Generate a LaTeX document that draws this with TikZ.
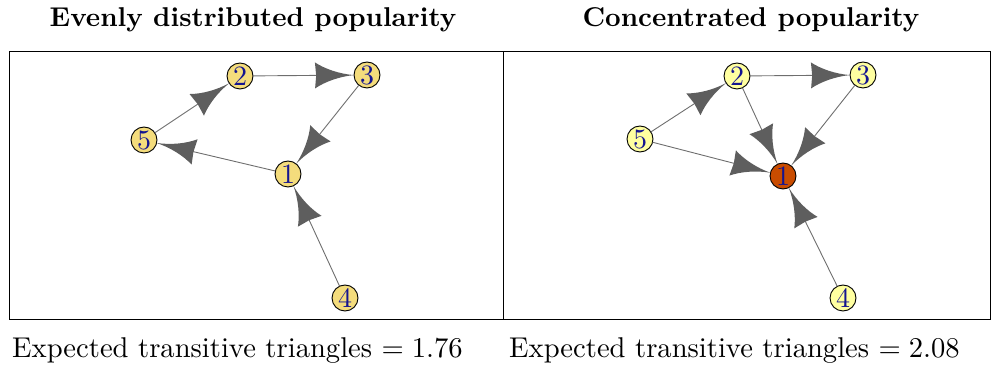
\documentclass[tikz,border=0pt]{standalone}
\usepackage{graphicx}
\usetikzlibrary{arrows.meta}
\definecolor{goldnode}{HTML}{F4DC7C}
\definecolor{lightnode}{HTML}{FFFFA0}
\definecolor{hubnode}{HTML}{C94C00}
\definecolor{numblue}{HTML}{141490}
\definecolor{edgegray}{HTML}{6E6E6E}
\definecolor{arrowgray}{HTML}{5E5E5E}
\pgfdeclarearrow{
  name = Curvy,
  setup code = {
    \pgfarrowssettipend{0pt}
    \pgfarrowssetbackend{-\pgfarrowlength}
    \pgfarrowssetlineend{-0.5\pgfarrowlength}
    \pgfarrowssavethe\pgfarrowlength
    \pgfarrowssavethe\pgfarrowwidth
  },
  drawing code = {
    \pgfpathmoveto{\pgfpoint{0pt}{0pt}}
    \pgfpathcurveto{\pgfpoint{-0.38\pgfarrowlength}{0.05\pgfarrowwidth}}{\pgfpoint{-0.75\pgfarrowlength}{0.25\pgfarrowwidth}}{\pgfpoint{-\pgfarrowlength}{0.5\pgfarrowwidth}}
    \pgfpathlineto{\pgfpoint{-0.97\pgfarrowlength}{0pt}}
    \pgfpathlineto{\pgfpoint{-\pgfarrowlength}{-0.5\pgfarrowwidth}}
    \pgfpathcurveto{\pgfpoint{-0.75\pgfarrowlength}{-0.25\pgfarrowwidth}}{\pgfpoint{-0.38\pgfarrowlength}{-0.05\pgfarrowwidth}}{\pgfpoint{0pt}{0pt}}
    \pgfpathclose
    \pgfusepathqfill
  },
  parameters = {\the\pgfarrowlength,\the\pgfarrowwidth},
  defaults = {length = 38pt, width = 26pt}
}
\newcommand{\mynum}[1]{\scalebox{2.8}{#1}}
\newcommand{\mytitle}[1]{\scalebox{2.72}{#1}}
\newcommand{\mycaption}[1]{\scalebox{2.86}{#1}}
\tikzset{
  vtx/.style={circle, draw=black, line width=0.9pt, minimum size=26pt, inner sep=0pt, outer sep=0pt,
    text=numblue, font=\fontsize{10}{10}\selectfont},
  gold/.style={vtx, fill=goldnode},
  pale/.style={vtx, fill=lightnode},
  hub/.style={vtx, fill=hubnode},
  edge/.style={draw=edgegray, line width=0.9pt, -{Curvy[length=39pt, width=26pt, color=arrowgray]}},
  panel/.style={draw=black, line width=1pt},
  title/.style={font=\fontsize{10}{12}\selectfont\bfseries, anchor=base, inner sep=0pt},
  caption/.style={font=\fontsize{10}{12}\selectfont, anchor=base west, inner sep=0pt}
}
\begin{document}
\begin{tikzpicture}[x=1pt, y=-1pt]
\useasboundingbox (0,0) rectangle (991,371);
\draw[panel] (9,52) rectangle (503,320);
\draw[panel] (503,52) rectangle (990,320);
\node[title] (t1) at (253,27) {\mytitle{Evenly distributed popularity}};
\node[title] (t2) at (751,27) {\mytitle{Concentrated popularity}};
\node[caption] (c1) at (12,358) {\mycaption{Expected transitive triangles $=1.76$}};
\node[caption] (c2) at (509,358) {\mycaption{Expected transitive triangles $=2.08$}};
% left graph
\node[gold] (a1) at (288,174) {\mynum{1}};
\node[gold] (a2) at (240,76) {\mynum{2}};
\node[gold] (a3) at (367,75) {\mynum{3}};
\node[gold] (a4) at (345,298) {\mynum{4}};
\node[gold] (a5) at (144,140) {\mynum{5}};
\draw[edge] (a2) -- (a3);
\draw[edge] (a3) -- (a1);
\draw[edge] (a1) -- (a5);
\draw[edge] (a5) -- (a2);
\draw[edge] (a4) -- (a1);
% right graph
\node[hub] (b1) at (783,176) {\mynum{1}};
\node[pale] (b2) at (737,76) {\mynum{2}};
\node[pale] (b3) at (863,75) {\mynum{3}};
\node[pale] (b4) at (843,298) {\mynum{4}};
\node[pale] (b5) at (640,139) {\mynum{5}};
\draw[edge] (b2) -- (b3);
\draw[edge] (b3) -- (b1);
\draw[edge] (b2) -- (b1);
\draw[edge] (b5) -- (b1);
\draw[edge] (b5) -- (b2);
\draw[edge] (b4) -- (b1);
\end{tikzpicture}
\end{document}
